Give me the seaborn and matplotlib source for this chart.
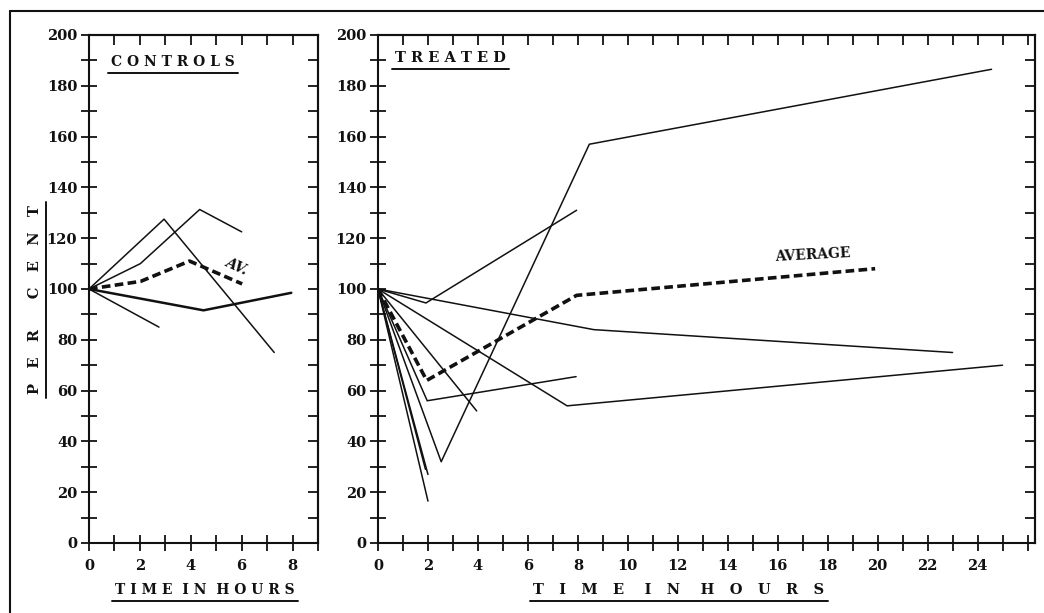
import matplotlib
matplotlib.use("Agg")
import matplotlib.pyplot as plt
from matplotlib.lines import Line2D
from matplotlib.ticker import MultipleLocator
import seaborn as sns

# ---- data (hours, per cent) ----
# controls
c1_hours = [0, 2.95, 7.28]
c1_pct = [100, 127.5, 75]
c2_hours = [0, 2.02, 4.35, 6.0]
c2_pct = [100, 110, 131.3, 122.5]
c3_hours = [0, 2.75]
c3_pct = [100, 85]
c4_hours = [0, 4.5, 7.95]
c4_pct = [100, 91.6, 98.5]
c_avg_hours = [0, 2.03, 3.95, 6.02]
c_avg_pct = [100, 103, 111, 102]

# treated
t1_hours = [0, 1.92, 7.95]
t1_pct = [100, 94.5, 131]
t2_hours = [0, 2.53, 8.46, 24.56]
t2_pct = [100, 32, 157, 186.5]
t3_hours = [0, 8.64, 23.0]
t3_pct = [100, 84, 75]
t4_hours = [0, 7.57, 25.0]
t4_pct = [100, 54, 70]
t5_hours = [0, 3.95]
t5_pct = [100, 52]
t6_hours = [0, 1.97, 7.93]
t6_pct = [100, 56, 65.5]
t7_hours = [0, 1.9]
t7_pct = [100, 29]
t8_hours = [0, 2.0]
t8_pct = [100, 27]
t9_hours = [0, 2.0]
t9_pct = [100, 16.5]
t_avg_hours = [0, 1.95, 7.95, 19.9]
t_avg_pct = [100, 64, 97.5, 108]

controls = [(c1_hours, c1_pct, 1.1), (c2_hours, c2_pct, 1.1),
            (c3_hours, c3_pct, 1.1), (c4_hours, c4_pct, 1.8)]
treated = [(t1_hours, t1_pct), (t2_hours, t2_pct), (t3_hours, t3_pct),
           (t4_hours, t4_pct), (t5_hours, t5_pct), (t6_hours, t6_pct),
           (t7_hours, t7_pct), (t8_hours, t8_pct), (t9_hours, t9_pct)]

sns.set_style("ticks")
plt.rcParams['font.family'] = ['DejaVu Serif']
plt.rcParams['font.weight'] = 'bold'

W, H = 1044, 613
fig = plt.figure(figsize=(W / 100, H / 100), dpi=100)


def px_box(x0, x1, ytop, ybot):
    return [x0 / W, 1 - ybot / H, (x1 - x0) / W, (ybot - ytop) / H]


ax1 = fig.add_axes(px_box(89, 318, 35, 543))
ax2 = fig.add_axes(px_box(378, 1035, 35, 543))

INK = '#111111'

for hrs, pct, lw in controls:
    sns.lineplot(x=hrs, y=pct, ax=ax1, color=INK, lw=lw, estimator=None, sort=False)
sns.lineplot(x=c_avg_hours, y=c_avg_pct, ax=ax1, color=INK, lw=2.6,
             estimator=None, sort=False, linestyle=(0, (2.4, 1.2)))

for hrs, pct in treated:
    sns.lineplot(x=hrs, y=pct, ax=ax2, color=INK, lw=1.1, estimator=None, sort=False)
sns.lineplot(x=t_avg_hours, y=t_avg_pct, ax=ax2, color=INK, lw=2.6,
             estimator=None, sort=False, linestyle=(0, (2.4, 1.2)))

for ax, xmax, labs in [(ax1, 9, range(0, 9, 2)), (ax2, 26.3, range(0, 25, 2))]:
    ax.set_xlim(0, xmax)
    ax.set_ylim(0, 200)
    ax.set_xticks(list(labs))
    ax.xaxis.set_minor_locator(MultipleLocator(1))
    ax.set_yticks(range(0, 201, 20))
    ax.yaxis.set_minor_locator(MultipleLocator(10))
    ax.tick_params(which='both', direction='inout', length=11, width=1.3,
                   colors=INK, labelsize=10.5, top=False, right=False)
    ax.tick_params(axis='x', pad=6)
    ax.tick_params(axis='y', pad=3)
    for lab in ax.get_xticklabels() + ax.get_yticklabels():
        lab.set_fontweight('bold')
    for sp in ax.spines.values():
        sp.set_linewidth(1.5)
        sp.set_color(INK)
    ax.set_xlabel('')
    ax.set_ylabel('')

    top = ax.secondary_xaxis('top')
    top.set_xticks(list(range(1, int(xmax) + 1)))
    top.tick_params(direction='in', length=7, width=1.3, labeltop=False, colors=INK)
    top.spines['top'].set_linewidth(1.5)
    right = ax.secondary_yaxis('right')
    right.set_yticks(range(10, 200, 10))
    right.tick_params(direction='in', length=7, width=1.3, labelright=False, colors=INK)
    right.spines['right'].set_linewidth(1.5)

# titles and labels
t_ctrl = ax1.text(0.87, 189.5, 'C O N T R O L S', fontsize=10, fontweight='bold',
                  va='center', ha='left', color=INK)
t_trt = ax2.text(0.7, 191, 'T R E A T E D', fontsize=10.5, fontweight='bold',
                 va='center', ha='left', color=INK)
ax1.text(5.8, 109, 'AV.', fontsize=10, fontweight='bold', rotation=-25,
         ha='center', va='center', color=INK, style='italic')
ax2.text(17.4, 113.5, 'AVERAGE', fontsize=10, fontweight='bold', rotation=3,
         ha='center', va='center', color=INK)

t_xl1 = fig.text(205 / W, 1 - 590 / H, 'T I M E  I N  H O U R S', fontsize=10,
                 fontweight='bold', ha='center', va='center', color=INK)
t_xl2 = fig.text(679 / W, 1 - 590 / H, 'T   I   M   E    I   N    H   O   U   R   S',
                 fontsize=10.5, fontweight='bold', ha='center', va='center', color=INK)
t_yl = fig.text(35 / W, 1 - 300 / H, 'P   E   R      C   E   N   T', fontsize=10.5,
                fontweight='bold', rotation=90, ha='center', va='center', color=INK)

# underline the labels
fig.canvas.draw()
rend = fig.canvas.get_renderer()
for t in [t_ctrl, t_trt, t_xl1, t_xl2]:
    bb = t.get_window_extent(rend)
    y = bb.y0 - 4
    fig.add_artist(Line2D([(bb.x0 - 3) / W, (bb.x1 + 3) / W], [y / H, y / H],
                          color=INK, lw=1.4))
bb = t_yl.get_window_extent(rend)
x = bb.x1 + 4
fig.add_artist(Line2D([x / W, x / W], [(bb.y0 - 4) / H, (bb.y1 + 4) / H],
                      color=INK, lw=1.4))

# outer frame of the plate (top and left edges visible)
fig.add_artist(Line2D([10 / W, 1.0], [1 - 11 / H, 1 - 11 / H], color=INK, lw=1.5))
fig.add_artist(Line2D([10 / W, 10 / W], [0, 1 - 11 / H], color=INK, lw=1.5))

fig.savefig('out.png', dpi=100, facecolor='white')
